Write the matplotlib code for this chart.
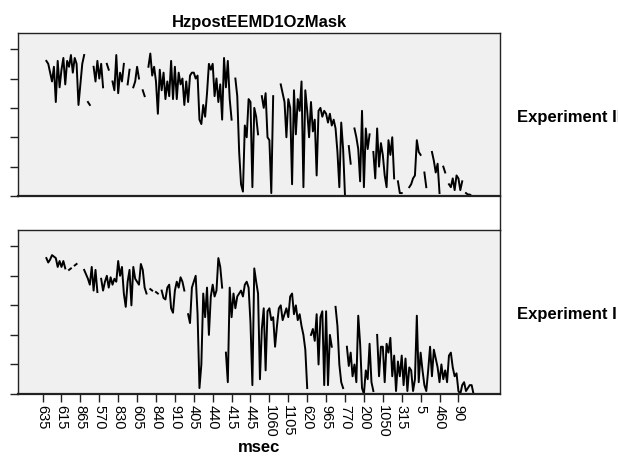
import matplotlib
matplotlib.use("Agg")
import matplotlib.pyplot as plt
import numpy as np
from matplotlib.lines import Line2D

plt.rcParams["font.family"] = ["Liberation Sans", "DejaVu Sans"]

nan = np.nan

TITLE = "HzpostEEMD1OzMask"
PANEL_LABELS = ["Experiment II", "Experiment I"]
X_LABEL = "msec"

# category tick labels (one label every 10 categories)
tick_labels = ["635", "615", "865", "570", "830", "605", "840", "910", "405",
               "440", "415", "445", "1060", "1105", "620", "965", "770", "200",
               "1050", "315", "5", "460", "90"]

# Experiment II (top panel), one row per labelled interval
exp2 = [
    4.8, nan, 4.6, 4.5, 4.2, 3.9, 4.4, 3.2, 4.6, 3.7,
    4.3, 4.7, 3.8, 4.6, 4.4, 4.8, 4.2, 4.7, 4.5, 3.1,
    3.8, 4.5, 4.8, nan, 3.2, 3.1, nan, 4.4, 3.9, 4.6,
    4.0, 4.5, 3.7, nan, 4.5, 4.3, nan, 3.9, 3.6, 4.8,
    3.5, 4.2, 3.9, 4.5, nan, 3.8, 4.3, nan, 3.7, 3.9,
    4.4, 4.0, nan, 3.6, 3.4, nan, 4.4, 4.85, 4.1, 4.4,
    3.9, 2.8, 4.3, 3.6, 4.2, 3.3, 3.9, 3.4, 4.6, 3.3,
    4.4, 3.3, 4.2, 3.8, 4.0, 3.1, 3.9, 3.2, 4.1, 4.2,
    4.2, 4.0, 4.1, 2.6, 2.45, 3.1, 2.7, 3.5, 4.5, 4.3,
    4.5, 3.4, 4.0, 3.2, 3.8, 2.6, 4.7, 3.7, 4.6, 3.3,
    2.6, nan, 4.0, 3.4, 1.5, 0.4, 0.15, 2.4, 2.0, 3.3,
    3.2, 0.3, 3.0, 2.7, 2.1, nan, 3.4, 3.0, 3.5, 2.0,
    1.9, 0.1, 3.4, nan, 4.0, nan, 3.8, 3.5, 3.2, 2.0,
    3.3, 3.0, 0.4, 3.6, 2.1, 3.3, 2.9, 3.9, 0.3, 3.6,
    2.9, 2.0, 3.2, 2.2, 2.6, 0.7, 2.9, 3.0, 2.7, 2.9,
    2.8, 2.5, 2.8, 2.4, 2.6, 2.3, 1.5, 0.3, 2.5, 1.6,
    0.0, nan, 1.7, 1.1, nan, 2.3, 2.0, 1.6, 0.5, 2.9,
    0.3, 2.3, 1.6, 2.1, nan, 1.5, 0.6, 2.3, 1.0, 1.8,
    1.4, 0.7, 0.3, 1.9, 1.4, 2.0, 0.6, nan, 0.5, 0.1,
    0.1, nan, nan, nan, 0.3, 0.4, 0.6, 0.7, 1.9, 1.5,
    1.4, nan, 0.8, 0.3, nan, nan, 1.5, 1.2, 0.8, 1.1,
    0.1, nan, 1.0, 0.8, nan, 0.4, 0.3, 0.6, 0.2, 0.7,
    0.6, 0.2, 0.5, nan, 0.1, 0.05, 0.05, 0.0, 0.0,
]

# Experiment I (bottom panel)
exp1 = [
    4.9, nan, 4.6, 4.45, 4.55, 4.7, 4.65, 4.6, 4.3, 4.5,
    4.3, 4.5, 4.25, nan, 4.2, 4.25, nan, 4.35, 4.4, nan,
    4.4, nan, 4.2, 4.05, 3.9, 3.7, 4.3, 3.5, 4.2, 3.45,
    nan, 3.9, 3.5, 3.8, 4.0, 3.6, 3.95, 3.7, 3.9, 3.8,
    4.5, 4.0, 4.3, 3.4, 2.95, 3.8, 4.2, 3.0, 4.3, 3.9,
    3.8, 3.7, 4.4, 4.2, 3.6, 3.4, nan, 3.55, 3.5, nan,
    3.45, 3.4, nan, 3.5, 3.25, 3.2, 3.6, 3.7, 2.9, 2.75,
    3.5, 3.8, 3.6, 3.95, 3.8, 3.5, nan, 2.7, 2.4, 3.6,
    3.8, 4.0, 2.7, 0.2, 1.0, 3.4, 2.6, 3.6, 2.0, 3.3,
    3.7, 3.3, 3.5, 4.6, 4.3, 3.6, nan, 1.4, 0.4, 3.6,
    2.6, 3.4, 2.9, 3.3, 3.4, 3.5, 3.3, 3.7, 3.8, 3.6,
    2.4, 0.3, 4.25, 3.8, 3.4, 0.5, 2.2, 2.9, 0.8, 2.8,
    2.9, 2.5, 2.6, 1.6, 2.3, 2.9, 3.0, 2.5, 2.7, 2.9,
    2.6, 3.3, 3.4, 2.7, 3.0, 2.5, 2.7, 2.3, 2.0, 1.5,
    0.2, nan, 2.0, 2.2, 1.8, 2.7, 1.0, 2.6, 2.8, 0.3,
    2.8, 0.3, 2.0, 1.6, nan, 2.95, 2.3, 1.0, 0.4, 0.2,
    nan, 1.6, 0.95, 1.4, 0.6, 1.0, 0.4, 2.65, 1.7, 0.2,
    0.0, 0.8, 0.5, 1.7, 0.4, 0.1, nan, 2.0, 0.6, 1.6,
    1.6, 0.4, 1.7, 1.4, 1.9, 0.6, 1.3, 0.1, 1.1, 0.6,
    1.3, 0.3, 1.2, 0.1, 0.9, 0.8, 0.1, 0.5, 2.65, 0.4,
    1.4, 0.8, 0.3, 0.1, 0.8, 1.6, 0.6, 1.5, 1.2, 0.9,
    0.4, 1.0, 0.5, 0.8, 0.4, 1.3, 1.4, 0.9, 0.6, 0.7,
    0.1, 0.0, 0.3, 0.4, 0.1, 0.2, 0.3, 0.3, 0.0,
]

W, H = 618, 457
fig = plt.figure(figsize=(W / 100, H / 100), dpi=100)

left, right = 18 / W, 500 / W
panels = [(33, 196), (230, 394)]
series = [exp2, exp1]
tick_pos = np.arange(len(tick_labels)) * 10

axes = []
for (top_px, bot_px), vals, lab in zip(panels, series, PANEL_LABELS):
    ax = fig.add_axes([left, 1 - bot_px / H, right - left, (bot_px - top_px) / H])
    ax.set_facecolor("#f0f0f0")
    x = np.arange(len(vals))
    ax.plot(x, vals, color="black", lw=1.4)
    ax.set_xlim(-13, 242)
    ax.set_ylim(0, 5.55)
    ax.set_yticks([0, 1, 2, 3, 4, 5])
    ax.set_yticklabels([])
    ax.tick_params(axis="y", direction="out", length=6, width=1, color="#222222")
    for s in ax.spines.values():
        s.set_color("#222222")
        s.set_linewidth(1.0)
    ax.spines["bottom"].set_linewidth(1.6)
    fig.text(517 / W, 1 - ((top_px + bot_px) / 2 + 3) / H, lab,
             ha="left", va="center", fontsize=12, fontweight="bold")
    axes.append(ax)

axes[0].set_xticks([])
axes[1].set_xticks(tick_pos)
axes[1].set_xticklabels(tick_labels, rotation=270, fontsize=10.5)
axes[1].tick_params(axis="x", direction="out", length=6, width=1, color="#222222", pad=2)

# frame line running between the two panels on the right
fig.add_artist(Line2D([right, right], [1 - 196 / H, 1 - 230 / H],
                      transform=fig.transFigure, color="#222222", lw=1.0))

fig.text(259 / W, 1 - 22 / H, TITLE, ha="center", va="center",
         fontsize=12, fontweight="bold")
fig.text(259 / W, 1 - 448 / H, X_LABEL, ha="center", va="center",
         fontsize=12, fontweight="bold")

fig.savefig("out.png", dpi=100)
plt.close(fig)
